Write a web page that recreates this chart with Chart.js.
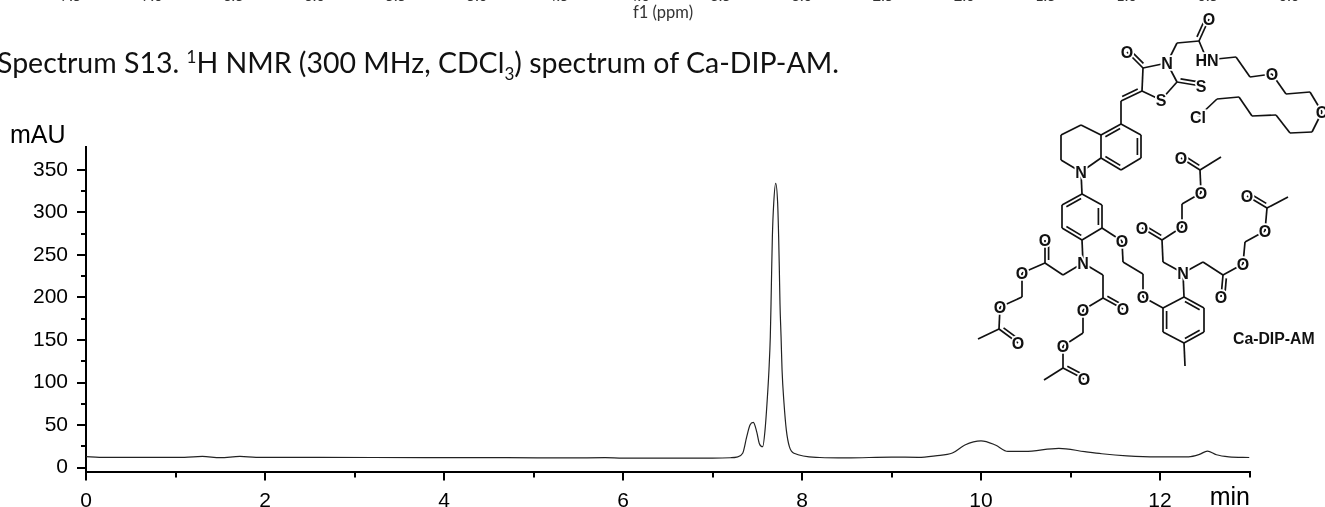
<!DOCTYPE html>
<html>
<head>
<meta charset="utf-8">
<title>Ca-DIP-AM</title>
<script src="https://cdn.jsdelivr.net/npm/chart.js@4"></script>
<style>
  html, body { margin: 0; padding: 0; background: #fff; overflow: hidden; }
  #page { position: relative; width: 1325px; height: 507px; overflow: hidden; }
  canvas { position: absolute; left: 0; top: 0; }
  #structure { position: absolute; left: 0; top: 0; }
  .ppm { position: absolute; top: -14px; font: 15px Lato, sans-serif; color: #333; transform: translateX(-50%); }
  #f1 { position: absolute; left: 633px; top: 2px; font: 16.5px Lato, sans-serif; color: #333; }
  #caption { position: absolute; left: -3px; top: 45px; font: 28.5px Lato, sans-serif; color: #111; white-space: nowrap; }
  #caption sup, #caption sub { font-size: 17px; line-height: 0; }
</style>
</head>
<body>
<div id="page">
  <canvas id="hplc" width="1325" height="507"></canvas>
  <svg id="structure" width="1325" height="507"></svg>
  <div id="f1">f1 (ppm)</div>
  <div id="caption">Spectrum S13. <sup>1</sup>H NMR (300 MHz, CDCl<sub>3</sub>) spectrum of Ca-DIP-AM.</div>
</div>
<script>
// chromatogram
const timeMin = [0, 0.15, 0.6, 1.1, 1.3, 1.5, 1.72, 1.9, 2.6, 3.8, 4.7, 5.4, 5.8, 6, 6.6, 7, 7.2, 7.27, 7.337, 7.382, 7.419, 7.456, 7.494, 7.524, 7.561, 7.587, 7.609, 7.631, 7.646, 7.654, 7.661, 7.669, 7.684, 7.706, 7.728, 7.739, 7.747, 7.754, 7.766, 7.777, 7.799, 7.825, 7.859, 7.911, 8.2, 8.5, 9, 9.3, 9.49, 9.68, 9.82, 10, 10.16, 10.3, 10.49, 10.87, 11.16, 11.35, 11.63, 11.96, 12.32, 12.44, 12.53, 12.63, 12.77, 13];
const absorbance = [12.8, 12, 12, 12, 13, 11.6, 13, 12, 12, 11.6, 11.6, 11.3, 11.6, 11, 11, 11, 11.5, 12.3, 16.7, 36, 50, 53, 42, 28, 24.5, 44, 75.5, 115, 154, 193, 232, 271.6, 310.8, 334.3, 310.8, 271.6, 232, 193, 154, 115, 75.5, 44, 24.5, 16.7, 11.8, 11.3, 12.3, 12, 13.8, 17, 26.5, 31.3, 26.5, 19, 19, 22.6, 18.6, 16.2, 13.8, 12.6, 12.6, 15.4, 19.4, 15, 12.6, 11.8];
const xTicks = [0, 2, 4, 6, 8, 10, 12];
const xMinorTicks = [1, 3, 5, 7, 9, 11, 13];
const yTicks = [0, 50, 100, 150, 200, 250, 300, 350];
const yMinorTicks = [25, 75, 125, 175, 225, 275, 325];
// the spectrum above on the same page, only its labels show
const ppmLabels = ['7.5', '7.0', '6.5', '6.0', '5.5', '5.0', '4.5', '4.0', '3.5', '3.0', '2.5', '2.0', '1.5', '1.0', '0.5', '0.0'];

const axisFont = '"Liberation Sans", Arial, sans-serif';

// short ticks and the two unit labels
const extras = {
  id: 'extras',
  afterDraw(chart) {
    const { ctx, scales: { x, y }, chartArea: a } = chart;
    ctx.save();
    ctx.strokeStyle = '#000';
    ctx.lineWidth = 2;
    ctx.beginPath();
    xMinorTicks.forEach(v => {
      const px = Math.round(x.getPixelForValue(v));
      ctx.moveTo(px, a.bottom);
      ctx.lineTo(px, a.bottom + 6);
    });
    yMinorTicks.forEach(v => {
      const py = Math.round(y.getPixelForValue(v));
      ctx.moveTo(a.left, py);
      ctx.lineTo(a.left - 5, py);
    });
    ctx.stroke();
    ctx.fillStyle = '#000';
    ctx.font = '25px ' + axisFont;
    ctx.textBaseline = 'alphabetic';
    ctx.textAlign = 'left';
    ctx.fillText('mAU', 10, 143);
    ctx.textAlign = 'right';
    ctx.fillText('min', 1250, 505);
    ctx.restore();
  }
};

new Chart(document.getElementById('hplc'), {
  type: 'line',
  data: {
    datasets: [{
      data: timeMin.map((t, i) => ({ x: t, y: absorbance[i] })),
      borderColor: '#222',
      borderWidth: 1.2,
      pointRadius: 0,
      cubicInterpolationMode: 'monotone'
    }]
  },
  plugins: [extras],
  options: {
    responsive: false,
    animation: false,
    layout: { padding: { top: 147, right: 75.5, left: 0, bottom: 0 } },
    plugins: { legend: { display: false }, tooltip: { enabled: false } },
    scales: {
      x: {
        type: 'linear',
        min: 0,
        max: 13,
        afterBuildTicks: s => { s.ticks = xTicks.map(v => ({ value: v })); },
        afterFit: s => { s.height = 35.4; },
        border: { color: '#000', width: 2 },
        grid: { drawOnChartArea: false, color: '#000', lineWidth: 2, tickLength: 9 },
        ticks: {
          color: '#000',
          maxRotation: 0,
          autoSkip: false,
          padding: 8,
          font: { family: axisFont, size: 21 }
        }
      },
      y: {
        type: 'linear',
        min: -4.8,
        max: 377,
        afterBuildTicks: s => { s.ticks = yTicks.map(v => ({ value: v })); },
        afterFit: s => { s.width = 86; },
        border: { color: '#000', width: 2 },
        grid: { drawOnChartArea: false, color: '#000', lineWidth: 2, tickLength: 9 },
        ticks: {
          color: '#000',
          autoSkip: false,
          padding: 9,
          font: { family: axisFont, size: 21 }
        }
      }
    }
  }
});

// ppm labels cut by the top edge
ppmLabels.forEach((t, i) => {
  const el = document.createElement('div');
  el.className = 'ppm';
  el.style.left = (71 + i * 81.2) + 'px';
  el.textContent = t;
  document.getElementById('page').appendChild(el);
});

// molecule drawn as an svg overlay, this is the figure's inset and not chart data
// [x1, y1, x2, y2, side of the second stroke for a double bond]
const bonds = [
  [1209,19,1199,41,1],[1199,41,1177,43],[1177,43,1167,63],[1199,41,1207,60],[1207,60,1236,57],[1236,57,1250,77],[1250,77,1272,74],
  [1272,74,1286,94],[1286,94,1310,92],[1310,92,1322,112],[1322,112,1312,132],[1312,132,1290,133],[1290,133,1276,115],[1276,115,1252,116],
  [1252,116,1239,97],[1239,97,1217,99],[1217,99,1198,117],
  [1143,68,1127,52,1],[1143,68,1167,63],[1167,63,1177,82],[1177,82,1201,86,-1],[1177,82,1161,100],[1161,100,1142,91],[1142,91,1143,68],
  [1142,91,1121,101,1],[1121,101,1121,124],
  [1121,124,1141,135],[1141,135,1141,158,1],[1141,158,1121,170],[1121,170,1101,158,1],[1101,158,1101,135],[1101,135,1121,124,1],
  [1101,135,1081,125],[1081,125,1061,135],[1061,135,1061,160],[1061,160,1081,172],[1081,172,1101,158],[1081,172,1082,194],
  [1082,194,1102,205],[1102,205,1102,228,1],[1102,228,1082,240],[1082,240,1062,228,1],[1062,228,1062,205],[1062,205,1082,194,1],
  [1102,228,1122,241],[1122,241,1123,262],[1123,262,1143,274],[1143,274,1143,297],[1143,297,1163,308],
  [1082,240,1083,263],[1083,263,1063,275],[1063,275,1045,263],[1045,263,1045,240,1],[1045,263,1022,273],[1022,273,1022,297],[1022,297,1000,307],
  [1000,307,999,329],[999,329,978,339],[999,329,1018,343,-1],
  [1083,263,1103,275],[1103,275,1103,298],[1103,298,1123,309,-1],[1103,298,1083,310],[1083,310,1083,333],[1083,333,1063,346],[1063,346,1063,368],
  [1063,368,1044,380],[1063,368,1084,379,-1],
  [1163,308,1184,297],[1184,297,1204,308,1],[1204,308,1204,332],[1204,332,1184,343,1],[1184,343,1163,332],[1163,332,1163,308,1],
  [1184,343,1185,366],[1184,297,1183,273],
  [1183,273,1163,262],[1163,262,1162,240],[1162,240,1142,228,1],[1162,240,1182,227],[1182,227,1182,204],[1182,204,1201,193],[1201,193,1200,170],
  [1200,170,1181,158,1],[1200,170,1221,157],
  [1183,273,1203,262],[1203,262,1223,275],[1223,275,1221,297,-1],[1223,275,1243,264],[1243,264,1245,242],[1245,242,1265,231],[1265,231,1267,208],
  [1267,208,1247,196,1],[1267,208,1288,197]
];
const atoms = [
  ['O',1209,19],['HN',1207,60],['N',1167,63],['O',1127,52],['S',1201,86],['S',1161,100],['O',1272,74],['O',1322,112],['Cl',1198,117],
  ['N',1081,172],['O',1122,241],['N',1083,263],['O',1045,240],['O',1022,273],['O',1000,307],['O',1018,343],
  ['O',1123,309],['O',1083,310],['O',1063,346],['O',1084,379],['O',1143,297],['N',1183,273],
  ['O',1142,228],['O',1182,227],['O',1201,193],['O',1181,158],['O',1221,297],['O',1243,264],['O',1265,231],['O',1247,196]
];

const svg = document.getElementById('structure');
function add(tag, attrs, text) {
  const el = document.createElementNS('http://www.w3.org/2000/svg', tag);
  Object.keys(attrs).forEach(k => el.setAttribute(k, attrs[k]));
  if (text) el.textContent = text;
  svg.appendChild(el);
}
function stroke(x1, y1, x2, y2) {
  add('line', { x1, y1, x2, y2, stroke: '#111', 'stroke-width': 1.7 });
}
bonds.forEach(([x1, y1, x2, y2, side]) => {
  stroke(x1, y1, x2, y2);
  if (side) {
    const len = Math.hypot(x2 - x1, y2 - y1);
    const ox = -(y2 - y1) / len * 3.6 * side, oy = (x2 - x1) / len * 3.6 * side;
    const tx = (x2 - x1) / len * 3, ty = (y2 - y1) / len * 3;
    stroke(x1 + ox + tx, y1 + oy + ty, x2 + ox - tx, y2 + oy - ty);
  }
});
atoms.forEach(([t, x, y]) => {
  add('text', {
    x, y: y + 6, 'text-anchor': 'middle', 'font-family': axisFont, 'font-size': 16, 'font-weight': 700, fill: '#111',
    stroke: '#fff', 'stroke-width': 3.5, 'paint-order': 'stroke'
  }, t);
});
add('text', { x: 1233, y: 344, 'font-family': axisFont, 'font-size': 15.8, 'font-weight': 700, fill: '#111' }, 'Ca-DIP-AM');
</script>
</body>
</html>
